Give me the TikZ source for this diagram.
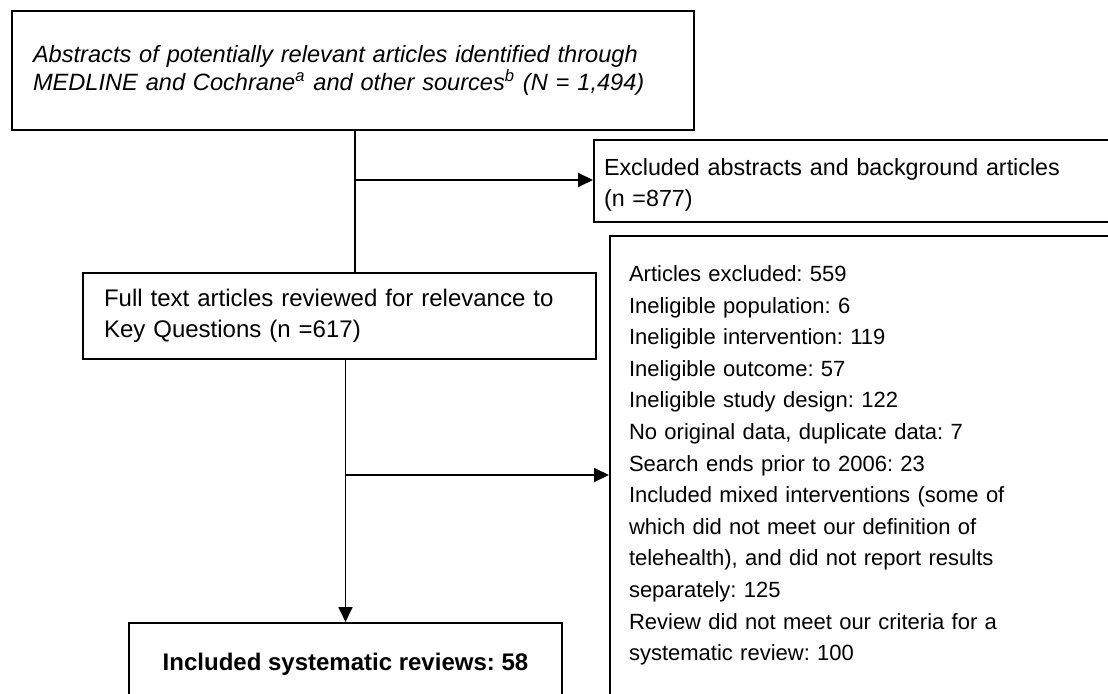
\documentclass[tikz,border=0pt]{standalone}
\usepackage{fontspec}
\setmainfont{Liberation Sans}
\frenchspacing
\usetikzlibrary{arrows.meta}
\tikzstyle{box} = [draw, line width=1pt, rectangle, align=left, inner ysep=0pt]
\tikzstyle{link} = [line width=0.9pt]
\tikzstyle{arrow} = [line width=0.9pt, ->, >={Triangle[length=7.5pt,width=7pt]}]

\begin{document}
\begin{tikzpicture}[x=0.5pt, y=-0.5pt]
  \useasboundingbox (0,0) rectangle (1108,694);
  \clip (0,0) rectangle (1108,694);
  \node [box, anchor=north west, text width=320pt, inner xsep=10.5pt, minimum height=59.5pt, font=\fontsize{11.8}{14}\selectfont\itshape] (abstracts) at (11,10)
    {Abstracts of potentially relevant articles identified through\\
     MEDLINE and Cochrane\textsuperscript{a} and other sources\textsuperscript{b} (N = 1,494)};
  \node [box, anchor=north west, text width=256pt, inner xsep=5pt, inner ysep=9.5pt, text depth=13.5pt, font=\fontsize{11.65}{15.5}\selectfont] (excluded) at (593,139)
    {Excluded abstracts and background articles\\ (n =877)};
  \node [box, anchor=north west, text width=235.5pt, inner xsep=10.5pt, minimum height=43pt, font=\fontsize{12}{15.5}\selectfont] (fulltext) at (82,272)
    {Full text articles reviewed for relevance to\\ Key Questions (n =617)};
  \node [box, anchor=north west, text width=239pt, inner xsep=9.5pt, inner ysep=14.8pt, text depth=250pt, font=\fontsize{11}{15.8}\selectfont] (reasons) at (609,235)
    {Articles excluded: 559\\
     Ineligible population: 6\\
     Ineligible intervention: 119\\
     Ineligible outcome: 57\\
     Ineligible study design: 122\\
     No original data, duplicate data: 7\\
     Search ends prior to 2006: 23\\
     Included mixed interventions (some of\\
     which did not meet our definition of\\
     telehealth), and did not report results\\
     separately: 125\\
     Review did not meet our criteria for a\\
     systematic review: 100};
  \node [box, anchor=north, minimum width=216.5pt, inner ysep=15pt, text depth=40pt, font=\fontsize{12}{15}\selectfont\bfseries] (included) at (345.5,622)
    {Included systematic reviews: 58};

  % junctions
  \coordinate (j1) at (355,180);
  \coordinate (j2) at (345,475);

  \draw [link] (abstracts.south -| j1) -- (fulltext.north -| j1);
  \draw [arrow] (j1) -- (excluded.west |- j1);
  \draw [arrow] (fulltext.south -| included.north) -- (included.north);
  \draw [arrow] (j2) -- (reasons.west |- j2);
\end{tikzpicture}
\end{document}
